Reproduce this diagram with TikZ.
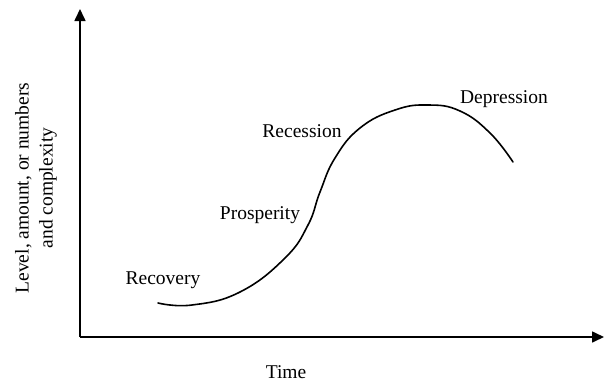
\documentclass[tikz,border=0pt]{standalone}
\usepackage{fontspec}
\setmainfont{Liberation Serif}
\usetikzlibrary{arrows.meta}
\tikzset{
    phase/.style={font=\fontsize{19.5}{24}\selectfont, inner sep=0pt},
    axis/.style={line width=1.6pt, -{Triangle[length=12pt,width=11pt]}}
}
\begin{document}
\begin{tikzpicture}[x=1pt, y=-1pt]
        \useasboundingbox (0, 0) rectangle (605, 383);
        \coordinate (O) at (80, 337);
        \coordinate (X) at (604, 337);
        \coordinate (Y) at (80, 9);

        \draw[axis] (O) -- (X);
        \draw[axis] (O) -- (Y);

        \draw[line width=1.6pt, line cap=round] plot[smooth, tension=0.75] coordinates {
            (158, 303) (192, 305) (240, 292) (285, 258) (308, 225) (320, 192)
            (335, 158) (360, 128) (395, 110) (428, 105) (460, 111) (490, 133) (513, 162)};

        \node[phase] (recovery) at (163, 280) {Recovery};
        \node[phase] (prosperity) at (260, 215) {Prosperity};
        \node[phase] (recession) at (302, 131) {Recession};
        \node[phase] (depression) at (504, 99) {Depression};
        \node[phase] (time) at (286, 372) {Time};
        \node[phase, rotate=90, align=center] (level) at (36, 188) {Level, amount, or numbers\\and complexity};
    \end{tikzpicture}
\end{document}
